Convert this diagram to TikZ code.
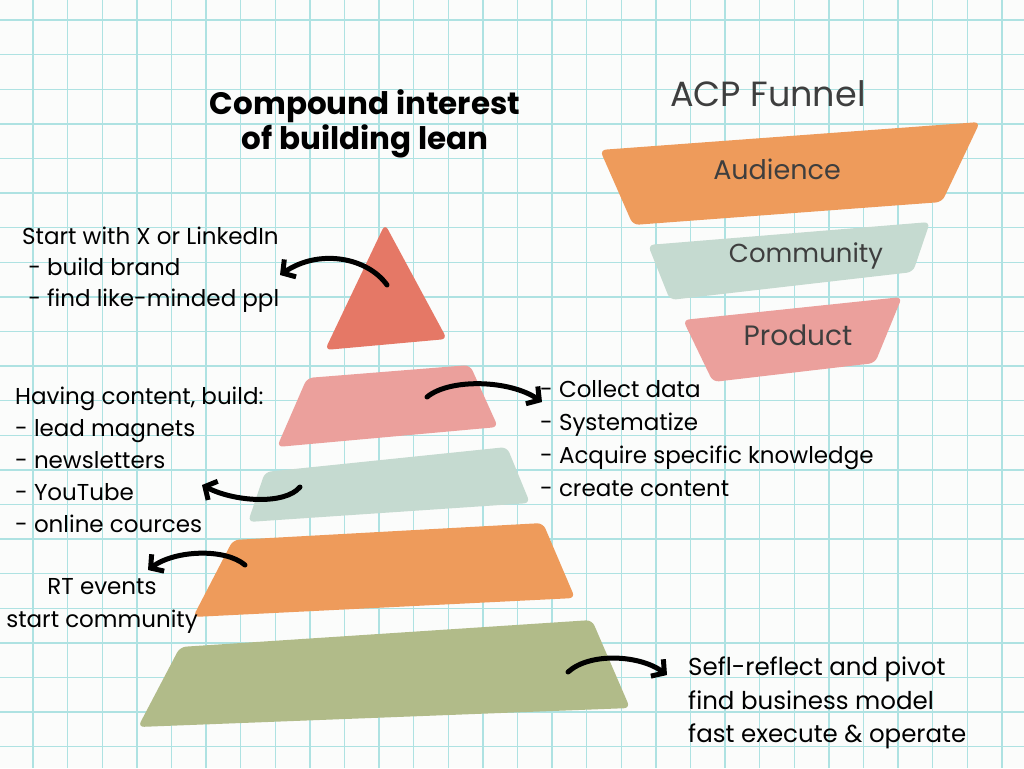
\documentclass[tikz,border=0pt]{standalone}
\usepackage{fontspec}
\setmainfont{Poppins}
\usetikzlibrary{positioning,arrows.meta}
\definecolor{gridcyan}{HTML}{AEE2E2}
\definecolor{paper}{HTML}{FBFCFB}
\definecolor{tricolor}{HTML}{E57866}
\definecolor{pinkcolor}{HTML}{EBA09C}
\definecolor{sagecolor}{HTML}{C5DAD0}
\definecolor{orangecolor}{HTML}{EE9B5B}
\definecolor{olivecolor}{HTML}{B1BB89}
\definecolor{inkgrey}{HTML}{3E3E3E}
\begin{document}
\begin{tikzpicture}[x=1pt, y=-1pt,
				gridline/.style={draw=gridcyan, line width=1.4pt},
				layer/.style={rounded corners=6pt, draw=none},
				note/.style={inner sep=0pt, align=left, anchor=west, font=\fontsize{23}{31}\selectfont},
				heading/.style={inner sep=0pt, align=center, font=\bfseries\fontsize{31}{35}\selectfont},
				funnellabel/.style={inner sep=0pt, text=inkgrey, font=\fontsize{27}{30}\selectfont},
				curvearrow/.style={line width=5pt, line cap=round, line join=round, -{Straight Barb[length=9pt, width=21pt]}}
			]
			\fill[paper] (0,0) rectangle (1024,768);
			\useasboundingbox (0,0) rectangle (1024,768);
			\foreach \i in {0,...,29} {
				\draw[gridline] ({33+34.6*\i},0) -- ({33+34.6*\i},768);
				\draw[gridline] (0,{20+34.6*\i}) -- (1024,{20+34.6*\i});
			}
			\fill[layer, tricolor] (385,224) -- (447,339) -- (325,350) -- cycle;
			\fill[layer, pinkcolor] (307,378) -- (470,365) -- (498,427) -- (277,447) -- cycle;
			\fill[layer, sagecolor] (265,472) -- (507,447) -- (530,503) -- (248,522) -- cycle;
			\fill[layer, orangecolor] (233,540) -- (543,523) -- (575,598) -- (193,617) -- cycle;
			\fill[layer, olivecolor] (180,647) -- (592,620) -- (630,708) -- (138,727) -- cycle;
			\fill[layer, orangecolor] (600,150) -- (980,122) -- (942,202) -- (633,225) -- cycle;
			\fill[layer, sagecolor] (648,245) -- (930,222) -- (913,272) -- (670,300) -- cycle;
			\fill[layer, pinkcolor] (683,320) -- (902,297) -- (875,363) -- (713,382) -- cycle;
			\node[heading] (title) at (365,124) {Compound interest\\of building lean};
			\node[funnellabel, font=\fontsize{35}{30}\selectfont] (funneltitle) at (768,94) {ACP Funnel};
			\node[funnellabel] (audience) at (777,169) {Audience};
			\node[funnellabel, font=\fontsize{26}{30}\selectfont] (community) at (806,256) {Community};
			\node[funnellabel, font=\fontsize{28}{30}\selectfont] (product) at (798,335) {Product};
			\node[note] (startlist) at (22,270) {Start with X or LinkedIn\\\ - build brand\\\ - find like-minded ppl};
			\node[note, font=\fontsize{23}{32}\selectfont] (contentlist) at (15,460) {Having content, build:\\- lead magnets\\- newsletters\\- YouTube\\- online cources};
			\node[note, font=\fontsize{23}{33}\selectfont] (datalist) at (540,439) {- Collect data\\- Systematize\\- Acquire specific knowledge\\- create content};
			\node[note, align=center, anchor=center, font=\fontsize{23}{33}\selectfont] (eventlist) at (102,606) {RT events\\start community};
			\node[note, font=\fontsize{24.5}{33.5}\selectfont] (pivotlist) at (688,703) {Sefl-reflect and pivot\\find business model\\fast execute \& operate};
			\coordinate (trifrom) at (387,285);
			\coordinate (tritip) at (280,275);
			\coordinate (pinkfrom) at (427,397);
			\coordinate (pinktip) at (542,402);
			\coordinate (sagefrom) at (300,487);
			\coordinate (sagetip) at (202,485);
			\coordinate (orangefrom) at (245,565);
			\coordinate (orangetip) at (148,570);
			\coordinate (olivefrom) at (568,672);
			\coordinate (olivetip) at (667,675);
			\draw[curvearrow] (trifrom) .. controls (368,258) and (320,248) .. (tritip);
			\draw[curvearrow] (pinkfrom) .. controls (450,378) and (510,380) .. (pinktip);
			\draw[curvearrow] (sagefrom) .. controls (285,505) and (235,502) .. (sagetip);
			\draw[curvearrow] (orangefrom) .. controls (225,548) and (175,550) .. (orangetip);
			\draw[curvearrow] (olivefrom) .. controls (590,652) and (640,655) .. (olivetip);
			\end{tikzpicture}
\end{document}
